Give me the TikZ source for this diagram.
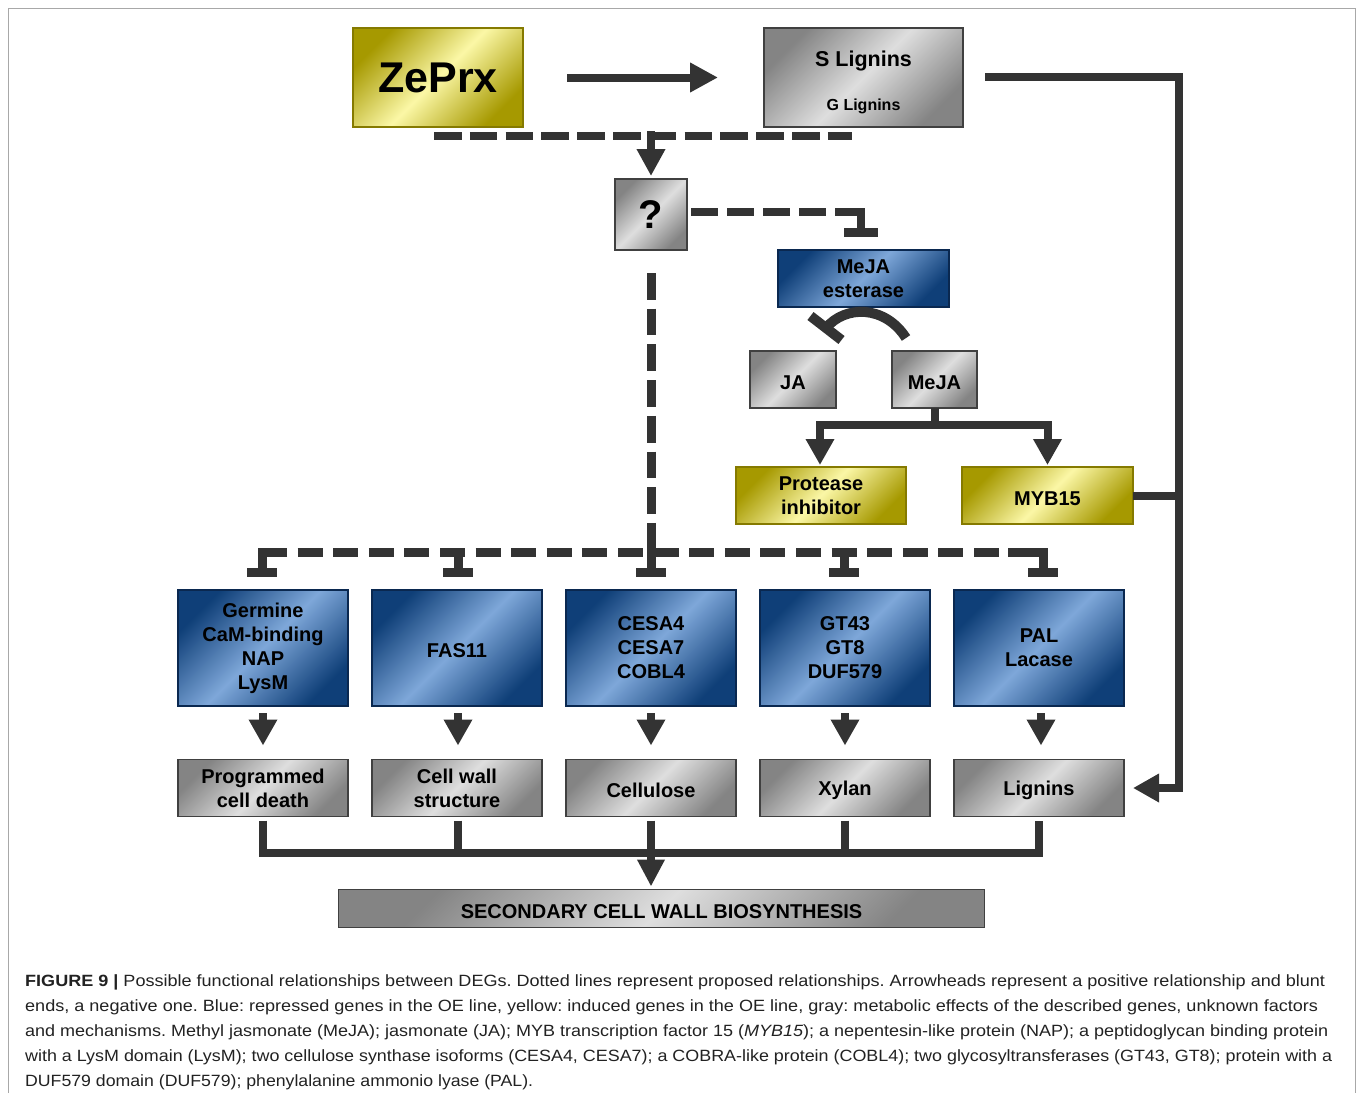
\documentclass[tikz,border=0pt]{standalone}
\usepackage{fontspec}
\usepackage{graphicx}
\setmainfont{Liberation Sans}
\usetikzlibrary{arrows.meta,calc}
\definecolor{conncol}{HTML}{333333}
\definecolor{ydark}{HTML}{A69900}
\definecolor{ylight}{HTML}{FBF7A6}
\definecolor{ybord}{HTML}{857A00}
\definecolor{bdark}{HTML}{0F3F78}
\definecolor{blight}{HTML}{7EA7D9}
\definecolor{bbord}{HTML}{0A2850}
\definecolor{gdark}{HTML}{848484}
\definecolor{glight}{HTML}{DEDEDE}
\definecolor{gbord}{HTML}{404040}
\definecolor{framecol}{HTML}{A8A8A8}
\definecolor{capcol}{HTML}{222222}
\newcommand{\capline}[2]{\resizebox{#1}{\height}{\fontsize{16.3}{20}\selectfont #2}}
\frenchspacing
\begin{document}
\begin{tikzpicture}[x=1pt,y=-1pt,
  every node/.style={inner sep=0pt, outer sep=0pt},
  boxfont/.style={font=\fontsize{20}{24}\selectfont\bfseries},
  boxshift/.style={execute at begin node={\rule{0pt}{20pt}}},
  ybox/.style={draw=ybord, line width=1.5pt, left color=ydark, right color=ydark, middle color=ylight, shading angle=45, align=center, boxfont, boxshift},
  bbox/.style={draw=bbord, line width=1.5pt, left color=bdark, right color=bdark, middle color=blight, shading angle=45, align=center, boxfont, boxshift},
  gbox/.style={draw=gbord, line width=1.5pt, left color=gdark, right color=gdark, middle color=glight, shading angle=45, align=center, boxfont, boxshift},
  sz/.style 2 args={minimum width=#1pt, minimum height=#2pt},
  conn/.style={draw=conncol, line width=8pt},
  thick conn/.style={draw=conncol, line width=9pt},
  bar/.style={draw=conncol, line width=9pt},
  tipA/.style={-{Triangle[length=26pt,width=27pt]}},
]
\useasboundingbox (0,0) rectangle (1358,1093);
\fill[white] (0,0) rectangle (1358,1093);
\draw[framecol, line width=1.5pt] (8.5,1093) -- (8.5,8.5) -- (1355.5,8.5) -- (1355.5,1093);

% top boxes
\node[ybox, sz={170}{99}, font=\fontsize{43}{43}\selectfont\bfseries] (zeprx) at (438,77.5) {ZePrx};
\node[gbox, sz={199}{99}] (slig) at (863.5,77.5) {};
\node[font=\fontsize{21.5}{24}\selectfont\bfseries] (slab) at (863.5,61) {S Lignins};
\node[font=\fontsize{16}{16}\selectfont\bfseries] (glab) at (863.5,106) {G Lignins};
\node[gbox, sz={72}{71}, font=\fontsize{40}{40}\selectfont\bfseries] (q) at (651,214.5) {?};
\node[bbox, sz={171}{57}] (est) at (863.5,278.5) {MeJA\\esterase};
\node[gbox, sz={86}{57}] (ja) at (793,379.5) {JA};
\node[gbox, sz={85}{57}] (meja) at (934.5,379.5) {MeJA};
\node[ybox, sz={170}{57}] (prot) at (821,495.5) {Protease\\inhibitor};
\node[ybox, sz={171}{57}] (myb) at (1047.5,495.5) {MYB15};

% blue row
\node[bbox, sz={170}{116}] (b1) at (263,648) {Germine\\CaM-binding\\NAP\\LysM};
\node[bbox, sz={170}{116}] (b2) at (457,648) {FAS11};
\node[bbox, sz={170}{116}] (b3) at (651,648) {CESA4\\CESA7\\COBL4};
\node[bbox, sz={170}{116}] (b4) at (845,648) {GT43\\GT8\\DUF579};
\node[bbox, sz={170}{116}] (b5) at (1039,648) {PAL\\Lacase};

% gray row
\node[gbox, sz={170}{57}] (g1) at (263,788) {Programmed\\cell death};
\node[gbox, sz={170}{57}] (g2) at (457,788) {Cell wall\\structure};
\node[gbox, sz={170}{57}] (g3) at (651,788) {Cellulose};
\node[gbox, sz={170}{57}] (g4) at (845,788) {Xylan};
\node[gbox, sz={170}{57}] (lig) at (1039,788) {Lignins};
\node[gbox, sz={646}{38}] (sec) at (661.5,908.5) {SECONDARY CELL WALL BIOSYNTHESIS};

% ZePrx -> S Lignins
\draw[conn, -{Triangle[length=28pt,width=28pt]}] ($(zeprx.east)+(44,0)$) -- ($(slig.west)+(-46,0)$);
% S Lignins -> Lignins
\draw[conn, line join=miter, tipA] ($(slig.east)+(22,-1)$) -- ++(194,0) |- ($(lig.east)+(9,0)$);
% MYB15 -> line
\draw[conn] (myb.east) -- ++(46,0);

% dashed from ZePrx / S Lignins to ?
\draw[conn, dash pattern=on 27.5pt off 8.3pt] ($(zeprx.south west)+(81,8.5)$) -- ($(slig.south west)+(88,8.5)$);
\draw[conn, -{Triangle[length=27pt,width=27pt]}] ($(q.north)+(0,-48)$) -- ($(q.north)+(0,-3)$);

% ? -| MeJA esterase (blunt)
\draw[conn, dash pattern=on 27pt off 9pt] ($(q.east)+(4,-2.5)$) -- ($(q.east -| est.north)+(-28.5,-2.5)$);
\draw[conn, line join=miter] ($(q.east -| est.north)+(-28.5,-2.5)$) -| ($(est.north)+(-2.5,-20)$);
\draw[bar] ($(est.north)+(-19.5,-18)$) -- ++(34,0);

% MeJA -> JA curved (blunt)
\draw[conn, line width=10pt] ($(meja.north)+(-28.5,-13)$) .. controls +(-21,-33) and +(19,-23) .. ($(ja.north)+(33,-23)$) coordinate (cend);
\draw[conn, line width=10pt] ($(cend)+(-15.5,-12)$) -- ($(cend)+(15.5,12)$);

% MeJA -> Protease inhibitor, MYB15
\draw[conn, line join=miter, tipA] (meja.south) -- ++(0,16.5) -| ($(prot.north)+(-1,-2)$);
\draw[conn, line join=miter, tipA] (meja.south) -- ++(0,16.5) -| ($(myb.north)+(0,-2)$);

% ? down, dashed
\draw[thick conn, dash pattern=on 26.7pt off 9pt] ($(q.south)+(0,23)$) -- ($(b3.north)+(0,-40)$);
\draw[thick conn] ($(b3.north)+(0,-67)$) -- ($(b3.north)+(0,-18)$);
% horizontal dashed
\draw[thick conn, dash pattern=on 25pt off 10.6pt] ($(b1.north)+(-1,-37.5)$) -- ($(b5.north)+(4,-37.5)$);
\draw[thick conn, line join=miter] ($(b1.north)+(24,-37.5)$) -| ($(b1.north)+(-1,-18)$);
\draw[thick conn, line join=miter] ($(b5.north)+(-31,-37.5)$) -| ($(b5.north)+(4,-18)$);
\draw[thick conn] ($(b2.north)+(1,-40)$) -- ($(b2.north)+(1,-18)$);
\draw[thick conn] ($(b4.north)+(-1,-40)$) -- ($(b4.north)+(-1,-18)$);
\draw[bar] ($(b1.north)+(-16,-18)$) -- ++(30,0);
\draw[bar] ($(b2.north)+(-14,-18)$) -- ++(30,0);
\draw[bar] ($(b3.north)+(-15,-18)$) -- ++(30,0);
\draw[bar] ($(b4.north)+(-16,-18)$) -- ++(30,0);
\draw[bar] ($(b5.north)+(-11,-18)$) -- ++(30,0);

% blue -> gray
\draw[conn, tipA] ($(b1.south)+(0,7)$) -- ($(g1.north)+(0,-14)$);
\draw[conn, tipA] ($(b2.south)+(1,7)$) -- ($(g2.north)+(1,-14)$);
\draw[conn, tipA] ($(b3.south)+(0,7)$) -- ($(g3.north)+(0,-14)$);
\draw[conn, tipA] ($(b4.south)+(0,7)$) -- ($(g4.north)+(0,-14)$);
\draw[conn, tipA] ($(b5.south)+(2,7)$) -- ($(lig.north)+(2,-14)$);

% gray -> secondary
\draw[conn, line join=miter] ($(g1.south)+(0,4)$) |- ($(lig.south)+(0,36)$) -- ($(lig.south)+(0,4)$);
\draw[conn] ($(g2.south)+(1,4)$) -- ++(0,32);
\draw[conn] ($(g4.south)+(0,4)$) -- ++(0,32);
\draw[conn, -{Triangle[length=27pt,width=26pt]}] ($(g3.south)+(0,4)$) -- ($(g3.south |- sec.north)+(0,-3)$);

% caption
\begin{scope}[every node/.style={anchor=base west, inner sep=0pt, text=capcol}]
\node (cap1) at (25,986) {\capline{1300pt}{\textbf{FIGURE 9 |} Possible functional relationships between DEGs. Dotted lines represent proposed relationships. Arrowheads represent a positive relationship and blunt}};
\node (cap2) at (25,1011) {\capline{1293pt}{ends, a negative one. Blue: repressed genes in the OE line, yellow: induced genes in the OE line, gray: metabolic effects of the described genes, unknown factors}};
\node (cap3) at (25,1036) {\capline{1303pt}{and mechanisms. Methyl jasmonate (MeJA); jasmonate (JA); MYB transcription factor 15 (\textit{MYB15}); a nepentesin-like protein (NAP); a peptidoglycan binding protein}};
\node (cap4) at (25,1061) {\capline{1307pt}{with a LysM domain (LysM); two cellulose synthase isoforms (CESA4, CESA7); a COBRA-like protein (COBL4); two glycosyltransferases (GT43, GT8); protein with a}};
\node (cap5) at (25,1086) {\capline{508pt}{DUF579 domain (DUF579); phenylalanine ammonio lyase (PAL).}};
\end{scope}
\end{tikzpicture}
\end{document}
